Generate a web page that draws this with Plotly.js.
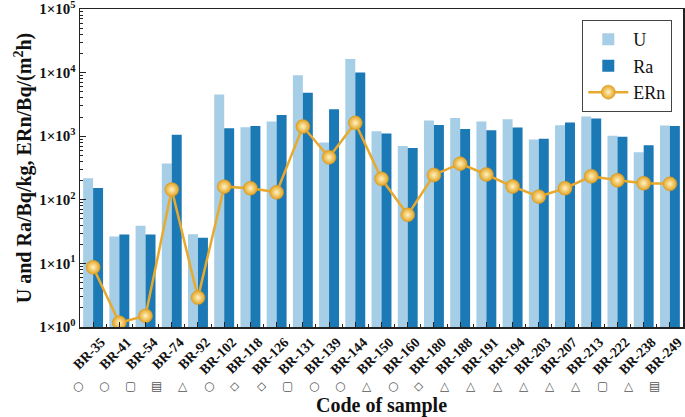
<!DOCTYPE html>
<html>
<head>
<meta charset="utf-8">
<script src="https://cdn.plot.ly/plotly-3.0.1.min.js"></script>
<style>html,body{margin:0;padding:0;background:#fff;}#chart{width:685px;height:417px;}</style>
</head>
<body>
<div id="chart"></div>
<script>
const categories = ["BR-35","BR-41","BR-54","BR-74","BR-92","BR-102","BR-118","BR-126","BR-131","BR-139","BR-144","BR-150","BR-160","BR-180","BR-188","BR-191","BR-194","BR-203","BR-207","BR-213","BR-222","BR-238","BR-249"];
const uValues = [218,26.4,39,373,28.8,4530,1380,1700,9100,795,16300,1200,700,1760,1940,1700,1850,890,1480,2040,1020,560,1470];
const raValues = [153,28.4,28.4,1050,25.2,1334,1450,2150,4800,2650,10000,1100,655,1500,1300,1240,1370,910,1640,1890,980,720,1450];
const ernValues = [8.7,1.17,1.5,145,2.9,161,152,131,1418,465,1620,214,58,246,370,250,162,112,152,234,203,182,178];
const sampleSymbols = ["○","○","▢","▤","△","○","◇","◇","▢","○","○","△","○","◇","△","△","△","△","△","△","▢","△","▤"];
const yTickVals = [1,10,100,1000,10000,100000];
const yTickText = ["1×10<sup>0</sup>","1×10<sup>1</sup>","1×10<sup>2</sup>","1×10<sup>3</sup>","1×10<sup>4</sup>","1×10<sup>5</sup>"];

const idx = categories.map((c,i)=>i);
const serif = "Liberation Serif, Times New Roman, serif";

const traces = [
  {type:'bar', name:'U', x:idx, y:uValues, marker:{color:'#a6cee6'}},
  {type:'bar', name:'Ra', x:idx, y:raValues, marker:{color:'#1b79b5'}},
  {type:'scatter', mode:'lines+markers', name:'ERn', x:idx, y:ernValues,
   line:{color:'#e8aa2e', width:2.5},
   marker:{size:14, color:'#e3a21f', gradient:{type:'radial', color:'#fff3c4'}, line:{color:'#d6961a', width:0.5}}}
];

const annotations = sampleSymbols.map((s,i)=>({
  x:i, xref:'x', y:-0.185, yref:'paper', yanchor:'middle', text:s, showarrow:false, xshift:-15,
  font:{family:"DejaVu Sans", size:12, color:'#555'}
}));

const layout = {
  width:685, height:417,
  margin:{l:80, r:2, t:9, b:90},
  paper_bgcolor:'#fff', plot_bgcolor:'#fff',
  barmode:'group', bargap:0.24, bargroupgap:0,
  showlegend:true,
  legend:{x:0.833, y:0.965, xanchor:'left', yanchor:'top', bordercolor:'#444', borderwidth:1,
          bgcolor:'#fff', font:{family:serif, size:18, color:'#111'}, tracegroupgap:0, itemwidth:40},
  xaxis:{
    range:[-0.5,22.5], tickmode:'array', tickvals:idx, ticktext:categories.map(c=>'<b>'+c+'</b>'), tickangle:-45,
    ticklabelshift:8, ticklabelstandoff:0, ticklabeloverflow:'allow',
    ticks:'inside', ticklen:5, tickcolor:'#222', showline:true, linecolor:'#222', linewidth:1.5, mirror:true,
    showgrid:false, zeroline:false,
    tickfont:{family:serif, size:14, color:'#111'},
    minor:{tickmode:'linear', tick0:0.5, dtick:1, ticks:'inside', ticklen:3, tickcolor:'#222', showgrid:false},
    title:{text:'<b>Code of sample</b>', font:{family:serif, size:20, color:'#111'}, standoff:30}
  },
  yaxis:{
    type:'log', range:[0,5], tickmode:'array', tickvals:yTickVals, ticktext:yTickText.map(t=>'<b>'+t+'</b>'),
    ticklabeloverflow:'allow',
    ticks:'inside', ticklen:6, tickcolor:'#222', showline:true, linecolor:'#222', linewidth:1.5, mirror:true,
    showgrid:false, zeroline:false,
    tickfont:{family:serif, size:15, color:'#111'},
    minor:{dtick:'D1', ticks:'inside', ticklen:3, tickcolor:'#222', showgrid:false},
    title:{text:'<b>U and Ra/Bq/kg, ERn/Bq/(m<sup>2</sup>h)</b>', font:{family:serif, size:20, color:'#111'}, standoff:2}
  },
  annotations:annotations
};

Plotly.newPlot('chart', traces, layout, {displayModeBar:false, staticPlot:true});
</script>
</body>
</html>
